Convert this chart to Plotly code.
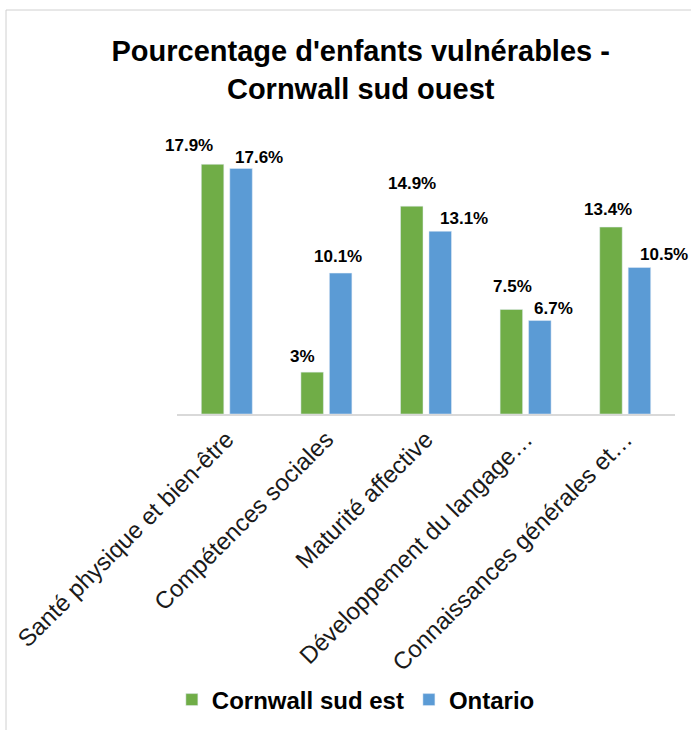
import plotly.graph_objects as go

categories = [
    "Santé physique et bien-être",
    "Compétences sociales",
    "Maturité affective",
    "Développement du langage…",
    "Connaissances générales et…",
]
cornwall = [17.9, 3, 14.9, 7.5, 13.4]
ontario = [17.6, 10.1, 13.1, 6.7, 10.5]
cornwall_text = ["17.9%", "3%", "14.9%", "7.5%", "13.4%"]
ontario_text = ["17.6%", "10.1%", "13.1%", "6.7%", "10.5%"]

# label placement nudges (pixels)
nudge_x_green = [-24, -10, 0, 1, -3]
nudge_x_blue = [18, -3, 24, 14, 25]
gap_green = [11, 8, 15, 15, 10]
gap_blue = [3, 9, 5, 5, 6]

GREEN = "#70AD47"
BLUE = "#5B9BD5"
FONT = "Liberation Sans, Arial, sans-serif"

fig = go.Figure()
fig.add_trace(go.Bar(name="<b>Cornwall sud est</b>", x=categories, y=cornwall,
                     marker=dict(color=GREEN)))
fig.add_trace(go.Bar(name="<b>Ontario</b>", x=categories, y=ontario,
                     marker=dict(color=BLUE)))

ann = []
for i, c in enumerate(categories):
    ann.append(dict(x=c, y=cornwall[i], text="<b>%s</b>" % cornwall_text[i],
                    xref="x", yref="y", showarrow=False, yanchor="bottom",
                    xanchor="center", xshift=-14.25 + nudge_x_green[i],
                    yshift=gap_green[i] - 4,
                    font=dict(family=FONT, size=17, color="#000000")))
    ann.append(dict(x=c, y=ontario[i], text="<b>%s</b>" % ontario_text[i],
                    xref="x", yref="y", showarrow=False, yanchor="bottom",
                    xanchor="center", xshift=14.25 + nudge_x_blue[i],
                    yshift=gap_blue[i] - 4,
                    font=dict(family=FONT, size=17, color="#000000")))

fig.update_layout(
    width=691, height=730,
    margin=dict(l=177, r=16, t=135, b=316, autoexpand=False),
    paper_bgcolor="white", plot_bgcolor="white",
    barmode="group", bargap=0.428, bargroupgap=0.21,
    title=dict(text="<b>Pourcentage d'enfants vulnérables -<br>Cornwall sud ouest</b>",
               x=0.522, xref="container", xanchor="center",
               y=1 - 61 / 730, yref="container", yanchor="top",
               font=dict(family=FONT, size=29, color="#000000")),
    xaxis=dict(showline=True, linecolor="#d9d9d9", linewidth=1.5,
               range=[-0.5, 4.5], autorange=False,
               tickangle=-45, ticks="", automargin=False,
               tickfont=dict(family=FONT, size=24, color="#1a1a1a"),
               showgrid=False, zeroline=False),
    yaxis=dict(range=[0, 20], autorange=False, visible=False,
               showgrid=False, zeroline=False),
    legend=dict(orientation="h", xref="container", yref="container",
                x=0.515, xanchor="center", y=1 - 700 / 730, yanchor="middle",
                font=dict(family=FONT, size=24, color="#000000"),
                itemwidth=30, traceorder="normal"),
    annotations=ann,
    showlegend=True,
    shapes=[
        dict(type="line", xref="paper", yref="paper", x0=(6 - 177) / 498, x1=1.2,
             y0=(414 - 10) / 279, y1=(414 - 10) / 279,
             line=dict(color="#d0d0d0", width=1)),
        dict(type="line", xref="paper", yref="paper", x0=(6 - 177) / 498, x1=(6 - 177) / 498,
             y0=(414 - 10) / 279, y1=-1.5,
             line=dict(color="#d0d0d0", width=1)),
    ],
)

fig.write_html(
    "out.html",
    config={"displayModeBar": False},
    post_script="document.body.style.margin='0';document.body.style.overflow='hidden';",
)
